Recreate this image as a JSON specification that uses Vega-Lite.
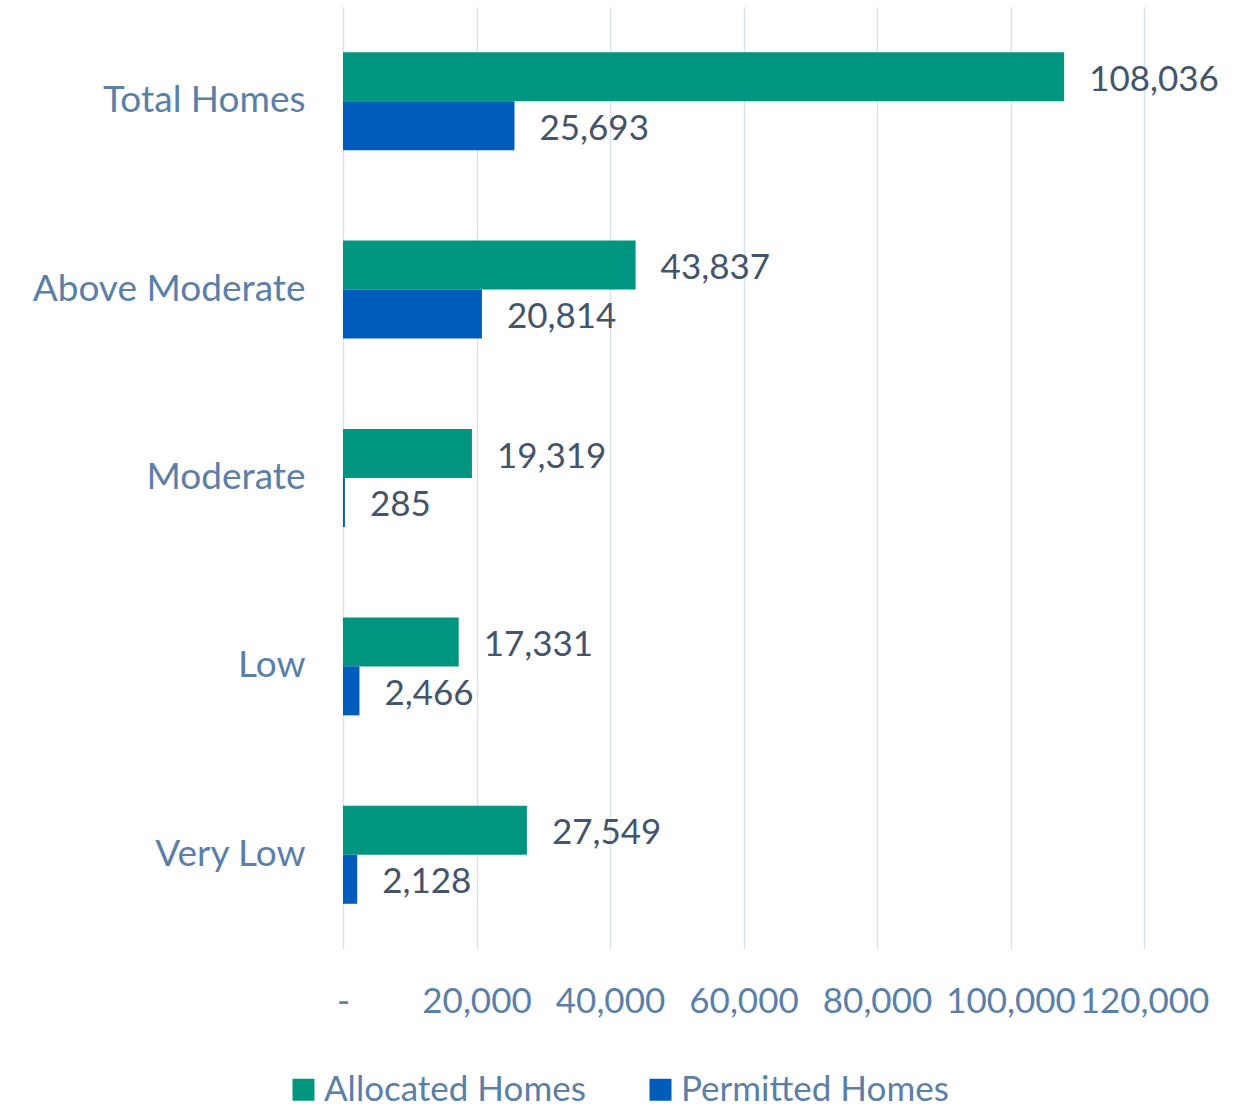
{
  "$schema": "https://vega.github.io/schema/vega-lite/v6.json",
  "width": 801,
  "height": 942,
  "autosize": {"type": "none"},
  "padding": {"left": 343, "top": 7, "right": 93, "bottom": 159},
  "background": "white",
  "config": {"font": "Lato", "view": {"stroke": null}},
  "data": {
    "values": [
      {"category": "Total Homes", "series": "Allocated Homes", "value": 108036},
      {"category": "Total Homes", "series": "Permitted Homes", "value": 25693},
      {"category": "Above Moderate", "series": "Allocated Homes", "value": 43837},
      {"category": "Above Moderate", "series": "Permitted Homes", "value": 20814},
      {"category": "Moderate", "series": "Allocated Homes", "value": 19319},
      {"category": "Moderate", "series": "Permitted Homes", "value": 285},
      {"category": "Low", "series": "Allocated Homes", "value": 17331},
      {"category": "Low", "series": "Permitted Homes", "value": 2466},
      {"category": "Very Low", "series": "Allocated Homes", "value": 27549},
      {"category": "Very Low", "series": "Permitted Homes", "value": 2128}
    ]
  },
  "encoding": {
    "y": {
      "field": "category",
      "type": "nominal",
      "sort": ["Total Homes", "Above Moderate", "Moderate", "Low", "Very Low"],
      "scale": {"paddingInner": 0.48, "paddingOuter": 0.24},
      "axis": {
        "title": null,
        "domain": false,
        "ticks": false,
        "grid": false,
        "labelPadding": 38,
        "labelFontSize": 37,
        "labelLimit": 0,
        "labelColor": "#5A7FA8",
        "labelFont": "Lato"
      }
    },
    "yOffset": {"field": "series", "type": "nominal", "sort": ["Allocated Homes", "Permitted Homes"]},
    "x": {
      "field": "value",
      "type": "quantitative",
      "scale": {"domain": [0, 120000]},
      "axis": {
        "title": null,
        "orient": "bottom",
        "values": [0, 20000, 40000, 60000, 80000, 100000, 120000],
        "labelExpr": "datum.value === 0 ? '-' : format(datum.value, ',')",
        "grid": true,
        "gridColor": "#D9E2EC",
        "gridWidth": 1.5,
        "domain": false,
        "ticks": false,
        "tickSize": 0,
        "labelPadding": 35,
        "labelFontSize": 35,
        "labelColor": "#5A7FA8",
        "labelOverlap": false,
        "labelFlush": false,
        "labelFont": "Lato"
      }
    }
  },
  "layer": [
    {
      "mark": {"type": "bar"},
      "encoding": {
        "color": {
          "field": "series",
          "type": "nominal",
          "sort": ["Allocated Homes", "Permitted Homes"],
          "scale": {"domain": ["Allocated Homes", "Permitted Homes"], "range": ["#00957F", "#005CBA"]},
          "legend": {
            "title": null,
            "orient": "none",
            "direction": "horizontal",
            "legendX": -57,
            "legendY": 1065,
            "symbolType": "square",
            "symbolSize": 484,
            "symbolStrokeWidth": 0,
            "labelFontSize": 35,
            "labelLimit": 0,
            "labelColor": "#5A7FA8",
            "labelFont": "Lato",
            "labelOffset": 3,
            "columnPadding": 57
          }
        }
      }
    },
    {
      "mark": {"type": "text", "align": "left", "baseline": "middle", "dx": 25, "dy": 3, "fontSize": 35, "color": "#44546A", "font": "Lato"},
      "encoding": {
        "text": {"field": "value", "type": "quantitative", "format": ","}
      }
    }
  ]
}
